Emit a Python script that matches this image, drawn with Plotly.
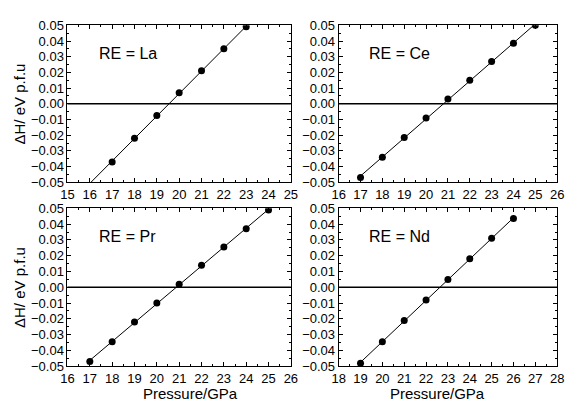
import numpy as np
import plotly.graph_objects as go

# ---- data ----
panels = ["La", "Ce", "Pr", "Nd"]
p_la = [17, 18, 19, 20, 21, 22, 23]
dh_la = [-0.037, -0.022, -0.0075, 0.007, 0.021, 0.035, 0.049]
p_ce = [17, 18, 19, 20, 21, 22, 23, 24, 25]
dh_ce = [-0.047, -0.034, -0.0215, -0.009, 0.003, 0.015, 0.027, 0.0385, 0.050]
p_pr = [17, 18, 19, 20, 21, 22, 23, 24, 25]
dh_pr = [-0.047, -0.0345, -0.022, -0.010, 0.002, 0.014, 0.0255, 0.037, 0.049]
p_nd = [19, 20, 21, 22, 23, 24, 25, 26]
dh_nd = [-0.048, -0.0345, -0.021, -0.008, 0.005, 0.018, 0.031, 0.0435]
fit_la = [16, 23]
fit_ce = [17, 25]
fit_pr = [17, 25]
fit_nd = [19, 26]
xr_la = [15, 25]
xr_ce = [16, 26]
xr_pr = [16, 26]
xr_nd = [18, 28]

series = [
    (p_la, dh_la, fit_la, xr_la),
    (p_ce, dh_ce, fit_ce, xr_ce),
    (p_pr, dh_pr, fit_pr, xr_pr),
    (p_nd, dh_nd, fit_nd, xr_nd),
]

W, H = 571, 408
xd = [(62 / W, 291 / W), (340 / W, 564 / W)]
yd = [(1 - 182 / H, 1 - 19 / H), (1 - 373 / H, 1 - 209 / H)]

FONT = "Arial, Liberation Sans, sans-serif"
fig = go.Figure()
layout = dict(
    width=W, height=H, margin=dict(l=0, r=0, t=0, b=0),
    paper_bgcolor="white", plot_bgcolor="white", showlegend=False,
    font=dict(family=FONT, size=13, color="black"),
)
shapes = []
annotations = []
for i, (px, dh, fr, xr) in enumerate(series):
    n = i + 1
    xa = "x" if n == 1 else f"x{n}"
    ya = "y" if n == 1 else f"y{n}"
    col, row = i % 2, i // 2
    coef = np.polyfit(px, dh, 1)
    fx = np.array(fr, dtype=float)
    fy = np.polyval(coef, fx)
    fig.add_trace(go.Scatter(x=fx, y=fy, mode="lines", line=dict(color="black", width=1),
                             xaxis=xa, yaxis=ya, cliponaxis=True))
    fig.add_trace(go.Scatter(x=px, y=dh, mode="markers",
                             marker=dict(color="black", size=7), xaxis=xa, yaxis=ya))
    axkey_x = "xaxis" if n == 1 else f"xaxis{n}"
    axkey_y = "yaxis" if n == 1 else f"yaxis{n}"
    layout[axkey_x] = dict(
        domain=xd[col], anchor=ya, range=xr, dtick=1, tick0=0,
        showgrid=False, zeroline=False, showline=True, linecolor="black", linewidth=1,
        mirror="allticks", ticks="inside", ticklen=4, tickcolor="black",
        tickfont=dict(size=13, family=FONT),
        minor=dict(ticks="inside", dtick=0.5, ticklen=2, tickcolor="black"),
    )
    layout[axkey_y] = dict(
        domain=yd[row], anchor=xa, range=[-0.05, 0.05], dtick=0.01, tick0=0,
        tickformat=".2f",
        showgrid=False, zeroline=False, showline=True, linecolor="black", linewidth=1,
        mirror="allticks", ticks="inside", ticklen=4, tickcolor="black",
        tickfont=dict(size=13, family=FONT),
        minor=dict(ticks="inside", dtick=0.005, ticklen=2, tickcolor="black"),
    )
    shapes.append(dict(type="line", xref=f"{xa} domain", yref=ya, x0=0, x1=1, y0=0, y1=0,
                       line=dict(color="black", width=1.5)))
    annotations.append(dict(text=f"RE = {panels[i]}", xref=f"{xa} domain", yref=f"{ya} domain",
                            x=0.13, y=0.82, xanchor="left", yanchor="middle", showarrow=False,
                            font=dict(size=16, family=FONT)))

for row in range(2):
    annotations.append(dict(text="ΔH/ eV p.f.u", xref="paper", yref="paper",
                            x=13 / W, y=sum(yd[row]) / 2, textangle=-90,
                            xanchor="center", yanchor="middle", showarrow=False,
                            font=dict(size=15, family=FONT)))
for col, cx in enumerate([188, 441]):
    annotations.append(dict(text="Pressure/GPa", xref="paper", yref="paper",
                            x=cx / W, y=-3 / H, xanchor="center", yanchor="bottom",
                            borderpad=0, showarrow=False, font=dict(size=15, family=FONT)))

layout["shapes"] = shapes
layout["annotations"] = annotations
fig.update_layout(**layout)
fig.write_html("out.html")
